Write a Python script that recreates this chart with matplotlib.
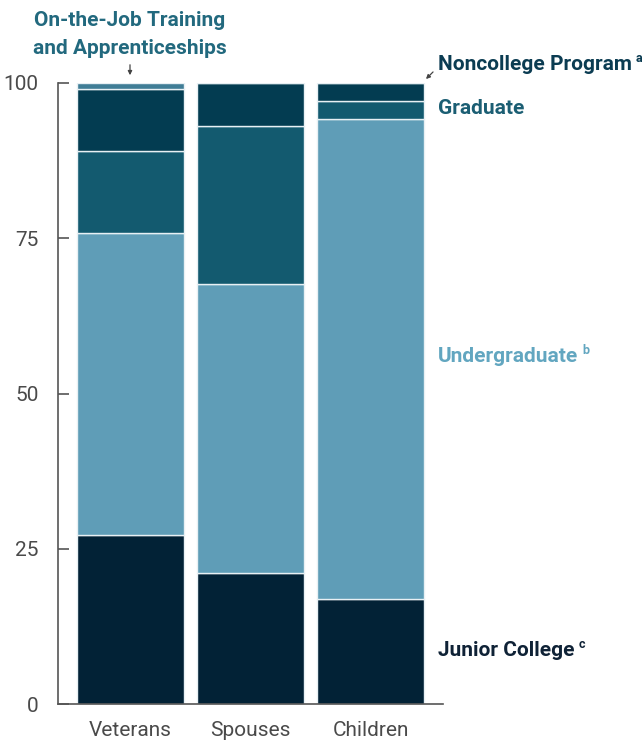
import matplotlib
matplotlib.use("Agg")
import matplotlib.pyplot as plt
import numpy as np

categories = ["Veterans", "Spouses", "Children"]
junior_college = [27.2, 21.1, 16.9]
undergraduate = [48.6, 46.5, 77.3]
graduate = [13.2, 25.5, 2.9]
noncollege = [10.0, 6.9, 2.9]
ojt = [1.0, 0.0, 0.0]

series = [
    ("Junior College", junior_college, "#022236"),
    ("Undergraduate", undergraduate, "#5f9db7"),
    ("Graduate", graduate, "#135a6f"),
    ("Noncollege Program", noncollege, "#033c51"),
    ("On-the-Job Training and Apprenticeships", ojt, "#407d96"),
]
yticks = [0, 25, 50, 75, 100]

W, H = 642, 744
fig = plt.figure(figsize=(W / 100, H / 100), dpi=100)
ax = fig.add_axes([58 / W, 1 - 704 / H, (443 - 58) / W, (704 - 83) / H])

x = np.arange(len(categories))
bottom = np.zeros(len(categories))
for name, vals, col in series:
    vals = np.array(vals)
    ax.bar(x, vals, bottom=bottom, width=0.89, color=col, edgecolor="#e8f0f4",
           linewidth=1.0, zorder=2)
    bottom += vals

ax.set_xlim(-0.604, 2.604)
ax.set_ylim(0, 100)
ax.set_yticks(yticks)
ax.set_yticklabels([str(t) for t in yticks])
ax.set_xticks(x)
ax.set_xticklabels(categories)
for s in ["top", "right"]:
    ax.spines[s].set_visible(False)
for s in ["left", "bottom"]:
    ax.spines[s].set_color("#555555")
    ax.spines[s].set_linewidth(1.2)
ax.tick_params(axis="y", direction="in", length=8, width=1.2, color="#555555",
               labelsize=15, labelcolor="#4a4a4a", pad=14)
ax.tick_params(axis="x", length=0, labelsize=15, labelcolor="#4a4a4a", pad=12)
for lab in ax.get_xticklabels() + ax.get_yticklabels():
    lab.set_fontfamily("Roboto")

def fx(px):
    return px / W

def fy(py):
    return 1 - py / H

labels = [
    ("Noncollege Program", "a", 438, 65, "#0b3c52"),
    ("Graduate", None, 438, 108, "#1b5e73"),
    ("Undergraduate", "b", 438, 357, "#62a6c0"),
    ("Junior College", "c", 438, 651, "#0f2236"),
]
texts = []
for txt, sup, px, py, col in labels:
    t = fig.text(fx(px), fy(py), txt, ha="left", va="center", fontsize=15,
                 fontweight="bold", color=col, family="Roboto")
    texts.append((t, sup, py, col))

fig.text(fx(130), fy(20), "On-the-Job Training", ha="center", va="center",
         fontsize=15, fontweight="bold", color="#22697e", family="Roboto")
fig.text(fx(130), fy(49), "and Apprenticeships", ha="center", va="center",
         fontsize=15, fontweight="bold", color="#22697e", family="Roboto")

fig.add_artist(matplotlib.patches.FancyArrowPatch(
    (fx(130), fy(62)), (fx(130), fy(78)), transform=fig.transFigure,
    arrowstyle="-|>", mutation_scale=6, color="#444444", lw=0.9))
fig.add_artist(matplotlib.patches.FancyArrowPatch(
    (fx(435), fy(70)), (fx(424), fy(81)), transform=fig.transFigure,
    arrowstyle="-|>", mutation_scale=6, color="#444444", lw=0.9))

fig.canvas.draw()
r = fig.canvas.get_renderer()
for t, sup, py, col in texts:
    if sup:
        bb = t.get_window_extent(renderer=r)
        fig.text((bb.x1 + 4) / W, fy(py - 6), sup, ha="left", va="center",
                 fontsize=9, fontweight="bold", color=col, family="Roboto")

fig.savefig("out.png", dpi=100)
